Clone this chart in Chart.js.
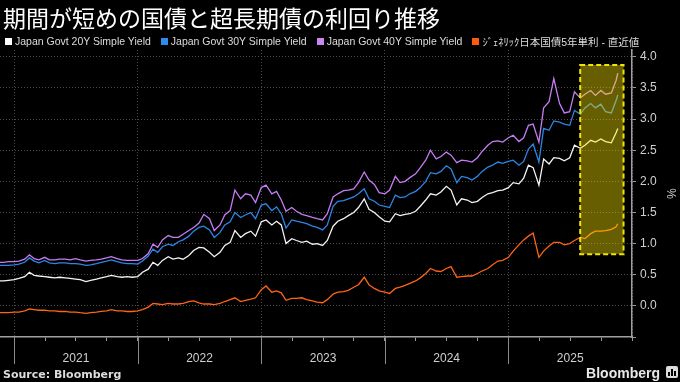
<!DOCTYPE html>
<html>
<head>
<meta charset="utf-8">
<script src="https://cdn.jsdelivr.net/npm/chart.js@4.4.1/dist/chart.umd.min.js"></script>
<style>
html,body{margin:0;padding:0;background:#000;width:680px;height:382px;overflow:hidden;}
#wrap{position:relative;width:680px;height:382px;background:#000;}
#chart{position:absolute;left:0;top:0;}
#title{position:absolute;left:3px;top:3px;color:#fff;font:400 23px "Noto Sans CJK JP",sans-serif;white-space:nowrap;line-height:28px;letter-spacing:0px;}
#legend{position:absolute;left:5px;top:35px;height:12px;font:10.5px "Liberation Sans","Noto Sans CJK JP",sans-serif;color:#ddd;white-space:nowrap;display:flex;align-items:center;}
.item{display:flex;align-items:center;margin-right:10px;}
.sw{width:7px;height:7px;margin-right:3px;}
#source{position:absolute;left:3px;top:368px;font:bold 11px "DejaVu Sans",sans-serif;color:#ddd;white-space:nowrap;}
#logo{position:absolute;right:20px;top:365px;font:bold 14px "Liberation Sans",sans-serif;color:#e8e8e8;white-space:nowrap;}
#icon{position:absolute;left:666px;top:366px;width:12px;height:12px;background:#ddd;border-radius:2px;}
#icon span{position:absolute;bottom:2px;width:2px;background:#000;}
</style>
</head>
<body>
<div id="wrap">
<canvas id="chart" width="680" height="382"></canvas>
<div id="title">期間が短めの国債と超長期債の利回り推移</div>
<div id="legend"></div>
<div id="source">Source: Bloomberg</div>
<div id="logo">Bloomberg</div>
<div id="icon"><span style="left:2px;height:4px"></span><span style="left:5px;height:7px"></span><span style="left:8px;height:5px"></span></div>
</div>
<script>
// ---- data ----
const dates = [
"2020-11-20","2020-12-01","2020-12-15",
"2021-01-01","2021-01-15","2021-02-01","2021-02-15","2021-03-01","2021-03-15","2021-04-01","2021-04-15",
"2021-05-01","2021-05-15","2021-06-01","2021-06-15","2021-07-01","2021-07-15","2021-08-01","2021-08-15",
"2021-09-01","2021-09-15","2021-10-01","2021-10-15","2021-11-01","2021-11-15","2021-12-01","2021-12-15",
"2022-01-01","2022-01-15","2022-02-01","2022-02-15","2022-03-01","2022-03-15","2022-04-01","2022-04-15",
"2022-05-01","2022-05-15","2022-06-01","2022-06-15","2022-07-01","2022-07-15","2022-08-01","2022-08-15",
"2022-09-01","2022-09-15","2022-10-01","2022-10-15","2022-11-01","2022-11-15","2022-12-01","2022-12-15",
"2023-01-01","2023-01-15","2023-02-01","2023-02-15","2023-03-01","2023-03-15","2023-04-01","2023-04-15",
"2023-05-01","2023-05-15","2023-06-01","2023-06-15","2023-07-01","2023-07-15","2023-08-01","2023-08-15",
"2023-09-01","2023-09-15","2023-10-01","2023-10-15","2023-11-01","2023-11-15","2023-12-01","2023-12-15",
"2024-01-01","2024-01-15","2024-02-01","2024-02-15","2024-03-01","2024-03-15","2024-04-01","2024-04-15",
"2024-05-01","2024-05-15","2024-06-01","2024-06-15","2024-07-01","2024-07-15","2024-08-01","2024-08-15",
"2024-09-01","2024-09-15","2024-10-01","2024-10-15","2024-11-01","2024-11-15","2024-12-01","2024-12-15",
"2025-01-01","2025-01-15","2025-02-01","2025-02-15","2025-03-01","2025-03-15","2025-04-01","2025-04-15",
"2025-05-01","2025-05-15","2025-06-01","2025-06-15","2025-07-01","2025-07-15","2025-08-01","2025-08-15",
"2025-09-01","2025-09-15","2025-10-01","2025-10-15","2025-11-01","2025-11-15","2025-11-20"
];

const jgb20 = [
0.40,0.40,0.41,
0.42,0.44,0.47,0.54,0.49,0.48,0.47,0.46,0.45,0.46,0.45,0.44,0.43,0.42,0.39,0.41,0.43,0.45,0.47,0.49,0.47,0.46,0.47,0.46,
0.47,0.54,0.59,0.70,0.65,0.73,0.79,0.75,0.77,0.75,0.81,0.89,0.94,0.93,0.86,0.79,0.86,0.97,1.02,1.21,1.10,1.16,1.20,1.12,
1.35,1.38,1.30,1.36,1.30,1.00,1.08,1.05,1.02,1.04,0.99,1.00,0.97,1.05,1.28,1.36,1.40,1.45,1.50,1.58,1.72,1.55,1.50,1.43,
1.36,1.35,1.48,1.45,1.47,1.48,1.52,1.60,1.70,1.80,1.78,1.83,1.92,1.86,1.62,1.72,1.70,1.66,1.68,1.74,1.80,1.82,1.85,1.86,
1.90,1.98,1.96,2.05,2.26,2.22,1.94,2.36,2.28,2.38,2.37,2.33,2.38,2.58,2.53,2.58,2.66,2.63,2.68,2.64,2.62,2.78,2.85
];

const jgb30 = [
0.65,0.65,0.65,
0.66,0.67,0.70,0.77,0.72,0.69,0.73,0.69,0.68,0.69,0.69,0.68,0.68,0.67,0.65,0.66,0.68,0.70,0.72,0.74,0.71,0.69,0.68,0.68,
0.67,0.72,0.80,0.91,0.86,0.95,0.99,0.97,1.03,1.06,1.12,1.20,1.26,1.28,1.22,1.10,1.18,1.30,1.35,1.50,1.42,1.46,1.50,1.40,
1.62,1.64,1.53,1.59,1.48,1.25,1.38,1.36,1.34,1.32,1.28,1.26,1.22,1.30,1.60,1.68,1.69,1.72,1.75,1.80,1.88,1.72,1.68,1.62,
1.60,1.58,1.78,1.74,1.75,1.80,1.84,1.90,2.00,2.14,2.12,2.16,2.25,2.20,1.98,2.08,2.06,2.02,2.08,2.16,2.23,2.26,2.31,2.29,
2.32,2.34,2.26,2.32,2.52,2.60,2.31,2.85,2.82,2.97,2.95,2.92,2.90,3.14,3.08,3.18,3.25,3.18,3.24,3.12,3.10,3.30,3.39
];

const jgb40 = [
0.70,0.70,0.71,
0.71,0.72,0.75,0.82,0.76,0.74,0.78,0.74,0.74,0.75,0.75,0.74,0.76,0.74,0.72,0.73,0.74,0.75,0.77,0.79,0.76,0.74,0.73,0.73,
0.73,0.76,0.84,0.99,0.94,1.06,1.13,1.10,1.10,1.15,1.21,1.26,1.33,1.47,1.40,1.21,1.30,1.46,1.53,1.86,1.72,1.80,1.78,1.66,
1.90,1.94,1.80,1.84,1.70,1.52,1.58,1.52,1.47,1.45,1.42,1.40,1.38,1.48,1.75,1.80,1.85,1.86,1.88,1.98,2.15,2.02,1.95,1.82,
1.80,1.86,2.08,1.98,2.00,2.06,2.12,2.22,2.34,2.50,2.36,2.40,2.47,2.42,2.30,2.34,2.33,2.31,2.38,2.48,2.58,2.64,2.65,2.63,
2.70,2.74,2.64,2.70,2.90,2.92,2.63,3.18,3.28,3.65,3.25,3.10,3.12,3.44,3.34,3.40,3.46,3.38,3.46,3.40,3.42,3.62,3.74
];

const jgb5 = [
-0.11,-0.11,-0.11,
-0.10,-0.10,-0.08,-0.05,-0.06,-0.07,-0.07,-0.08,-0.08,-0.09,-0.09,-0.10,-0.10,-0.11,-0.12,-0.11,-0.10,-0.09,-0.08,-0.06,-0.08,-0.08,-0.09,-0.09,
-0.08,-0.06,-0.02,0.04,0.03,0.02,0.04,0.03,0.03,0.04,0.07,0.08,0.05,0.03,0.03,0.02,0.04,0.07,0.10,0.13,0.07,0.09,0.11,0.13,
0.26,0.32,0.22,0.24,0.21,0.09,0.12,0.12,0.13,0.10,0.08,0.06,0.05,0.10,0.19,0.22,0.23,0.25,0.30,0.34,0.46,0.34,0.28,0.24,
0.22,0.20,0.28,0.30,0.33,0.36,0.40,0.45,0.52,0.60,0.56,0.55,0.60,0.63,0.46,0.47,0.48,0.48,0.52,0.56,0.60,0.66,0.72,0.73,
0.78,0.88,0.98,1.06,1.12,1.17,0.78,0.88,0.96,1.02,1.02,0.98,1.00,1.05,1.10,1.08,1.16,1.20,1.20,1.21,1.23,1.27,1.32
];

const seriesLabels = ["Japan Govt 20Y Simple Yield","Japan Govt 30Y Simple Yield","Japan Govt 40Y Simple Yield","ｼﾞｪﾈﾘｯｸ日本国債5年単利 - 直近値"];
const yearLabels = [2021, 2022, 2023, 2024, 2025];
const yTickValues = [-0.5,-0.25,0,0.25,0.5,0.75,1,1.25,1.5,1.75,2,2.25,2.5,2.75,3,3.25,3.5,3.75,4];
const highlightFrom = "2025-08-01", highlightTo = "2025-12-07", highlightLow = 0.83, highlightHigh = 3.87;
const axisStart = "2020-11-20", axisEnd = "2026-01-01";

// ---- styles ----
const colors = ["#f4f4f4", "#2c86e6", "#c57cf4", "#ff6414"];
const legendColors = ["#ffffff", "#2c8cf0", "#c788f0", "#ff5a10"];

function toYear(s){
  const [y,m,d] = s.split("-").map(Number);
  const t = Date.UTC(y,m-1,d), a = Date.UTC(y,0,1), b = Date.UTC(y+1,0,1);
  return y + (t-a)/(b-a);
}
const xs = dates.map(toYear);
const quarterTicks = [];
yearLabels.forEach(y => { [0,0.25,0.5,0.75].forEach(q => quarterTicks.push(y+q)); });
quarterTicks.push(yearLabels[yearLabels.length-1]+1);

// legend
const lg = document.getElementById("legend");
seriesLabels.forEach((t,i)=>{
  const it = document.createElement("div"); it.className="item";
  const sw = document.createElement("div"); sw.className="sw"; sw.style.background=legendColors[i];
  const tx = document.createElement("span"); tx.textContent=t;
  it.appendChild(sw); it.appendChild(tx); lg.appendChild(it);
});

const seriesData = [jgb20, jgb30, jgb40, jgb5];
const datasets = seriesData.map((arr,i)=>({
  label: seriesLabels[i],
  data: arr.map((v,k)=>({x: xs[k], y: v})),
  borderColor: colors[i],
  backgroundColor: colors[i],
  borderWidth: 1.3,
  pointRadius: 0,
  tension: 0,
  order: [2,3,4,1][i]
}));

const overlay = {
  id: "overlay",
  afterDatasetsDraw(chart){
    const {ctx, scales:{x, y}} = chart;
    const x0 = x.getPixelForValue(toYear(highlightFrom)), x1 = x.getPixelForValue(toYear(highlightTo));
    const y0 = y.getPixelForValue(highlightHigh), y1 = y.getPixelForValue(highlightLow);
    ctx.save();
    ctx.fillStyle = "rgba(255,236,0,0.40)";
    ctx.fillRect(x0, y0, x1-x0, y1-y0);
    ctx.setLineDash([5,3]);
    ctx.strokeStyle = "#efe400";
    ctx.lineWidth = 2;
    ctx.strokeRect(x0, y0, x1-x0, y1-y0);
    ctx.restore();
  },
  afterDraw(chart){
    const {ctx, scales:{x}, chartArea} = chart;
    ctx.save();
    ctx.strokeStyle = "#8a8a8a";
    ctx.lineWidth = 1;
    ctx.fillStyle = "#d0d0d0";
    ctx.font = "12px 'Liberation Sans', sans-serif";
    ctx.textAlign = "center";
    ctx.textBaseline = "middle";
    yearLabels.forEach(yr=>{
      const px = Math.round(x.getPixelForValue(yr)) + 0.5;
      ctx.beginPath(); ctx.moveTo(px, chartArea.bottom); ctx.lineTo(px, chartArea.bottom + 27); ctx.stroke();
      ctx.fillText(String(yr), x.getPixelForValue(yr + 0.5), chartArea.bottom + 22);
    });
    ctx.restore();
  }
};

new Chart(document.getElementById("chart"), {
  type: "line",
  data: { datasets },
  options: {
    responsive: false,
    animation: false,
    devicePixelRatio: 1,
    layout: { padding: { top: 50, left: 0, right: 0, bottom: 0 } },
    plugins: { legend: { display: false }, tooltip: { enabled: false } },
    scales: {
      x: {
        type: "linear",
        min: toYear(axisStart),
        max: toYear(axisEnd),
        afterBuildTicks: s => { s.ticks = quarterTicks.map(v => ({ value: v })); },
        ticks: { display: false },
        grid: {
          color: c => (c.tick && Math.abs(c.tick.value - Math.round(c.tick.value)) < 1e-6) ? "#4a4a4a" : "rgba(0,0,0,0)",
          tickColor: "#999",
          tickLength: 4,
          lineWidth: 1
        },
        border: { display: true, color: "#a0a0a0", width: 1.5, dash: [1, 2] },
        afterFit: s => { s.height = 45; }
      },
      y: {
        position: "right",
        min: -0.5,
        max: 4.11,
        afterBuildTicks: s => { s.ticks = yTickValues.map(v => ({ value: v })); },
        ticks: {
          color: "#d0d0d0",
          font: { size: 12, family: "'Liberation Sans', sans-serif" },
          padding: 4,
          callback: v => (v >= 0 && Math.abs(v*2 - Math.round(v*2)) < 1e-6) ? v.toFixed(1) : ""
        },
        grid: {
          color: c => (c.tick && c.tick.value >= 0 && Math.abs(c.tick.value*2 - Math.round(c.tick.value*2)) < 1e-6) ? "#4a4a4a" : "rgba(0,0,0,0)",
          tickColor: "#999",
          tickLength: 4,
          lineWidth: 1
        },
        border: { display: true, color: "#a0a0a0", width: 1.5, dash: [1, 2] },
        title: { display: true, text: "%", color: "#d0d0d0", font: { size: 12, family: "'Liberation Sans', sans-serif" }, padding: 2 },
        afterFit: s => { s.width = 48; }
      }
    }
  },
  plugins: [overlay]
});
</script>
</body>
</html>
